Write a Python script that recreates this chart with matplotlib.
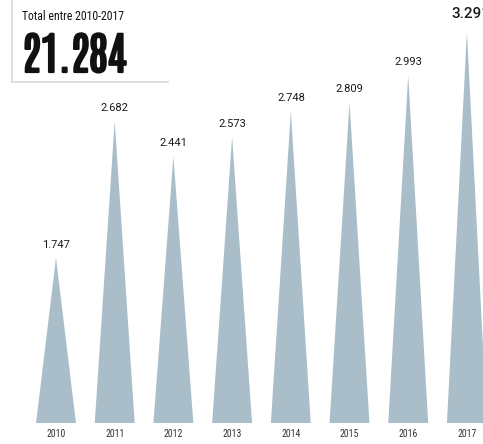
import matplotlib
matplotlib.use("Agg")
import matplotlib.pyplot as plt
import matplotlib.patheffects as pe
from matplotlib.lines import Line2D

years = ["2010", "2011", "2012", "2013", "2014", "2015", "2016", "2017"]
values = [1747, 2682, 2441, 2573, 2748, 2809, 2993, 3291]
labels = ["1.747", "2.682", "2.441", "2.573", "2.748", "2.809", "2.993", "3.291"]
total_caption = "Total entre 2010-2017"
total_value = "21.284"

W, H = 483, 444
fig = plt.figure(figsize=(W / 100, H / 100), dpi=100)
fig.patch.set_facecolor("white")

ax = fig.add_axes([0, 21 / H, 1, 1 - 21 / H])
ax.set_xlim(-0.954, 7.274)
ax.set_ylim(620, 3509)
ax.axis("off")

hw = 0.34
tri_color = "#a9bec8"
for i, v in enumerate(values):
    ax.fill([i - hw, i, i + hw], [620, v, 620], color=tri_color, lw=0)
    last = i == len(values) - 1
    ax.annotate(labels[i], (i, v), xytext=(0.1 if not last else 3, 6 if not last else 8),
                textcoords="offset points", ha="center", va="bottom",
                fontsize=11 if last else 8,
                fontweight="medium" if last else "normal",
                family=["Roboto", "DejaVu Sans"],
                color="#1a1a1a")

for i, y in enumerate(years):
    fig.text((56 + 58.7 * i) / W, 1 - 434 / H, y, ha="center", va="center",
             fontsize=7, color="#333333",
             family=["Roboto Condensed", "DejaVu Sans"])

# Total box
fig.add_artist(Line2D([12 / W, 12 / W], [1, 1 - 82 / H], color="#d9d9d9", lw=1.2))
fig.add_artist(Line2D([12 / W, 168 / W], [1 - 82 / H, 1 - 82 / H], color="#d9d9d9", lw=1.2))
fig.text(22 / W, 1 - 17 / H, total_caption, ha="left", va="center", fontsize=8.5,
         color="#111111", family=["Roboto Condensed", "DejaVu Sans"])
fig.text(22 / W, 1 - 72 / H, total_value, ha="left", va="baseline", fontsize=32,
         fontweight="bold", color="#111111",
         family=["Antonio", "DejaVu Sans"],
         path_effects=[pe.withStroke(linewidth=1.6, foreground="#111111")])

fig.savefig("out.png", dpi=100, facecolor="white")
